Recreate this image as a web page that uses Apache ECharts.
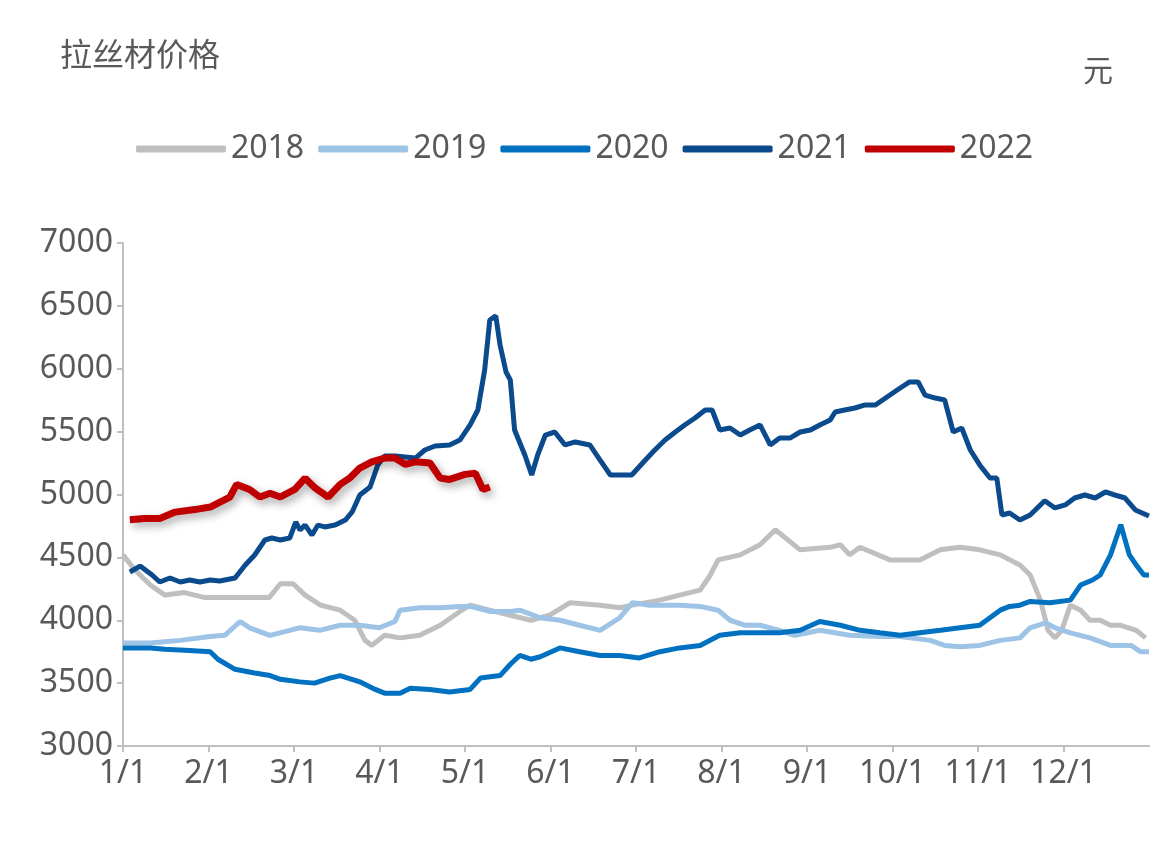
<!DOCTYPE html>
<html><head><meta charset="utf-8">
<script src="https://cdn.jsdelivr.net/npm/echarts@6/dist/echarts.min.js"></script>
<style>html,body{margin:0;padding:0;background:#fff}#c{width:1169px;height:844px}</style>
</head><body><div id="c"></div>
<script>
const monthLabels = ['1/1','2/1','3/1','4/1','5/1','6/1','7/1','8/1','9/1','10/1','11/1','12/1'];
const seriesNames = ['2018','2019','2020','2021','2022'];
const colors = ['#BFBFBF','#9DC3E6','#0070C0','#0B4A8C','#C00000'];
// [month position (0 = 1/1), price]
const data2018 = [[0,4520],[0.14,4400],[0.32,4280],[0.49,4200],[0.72,4220],[0.96,4180],[1.25,4180],[1.71,4180],[1.84,4290],[1.99,4290],[2.13,4200],[2.31,4120],[2.54,4080],[2.71,4000],[2.83,3840],[2.91,3800],[3.06,3880],[3.24,3860],[3.47,3880],[3.71,3960],[3.94,4070],[4.06,4120],[4.29,4080],[4.53,4040],[4.77,4000],[4.99,4040],[5.23,4140],[5.58,4120],[5.81,4100],[5.96,4120],[6.28,4160],[6.51,4200],[6.75,4240],[6.87,4360],[6.96,4480],[7.22,4520],[7.45,4600],[7.63,4720],[7.92,4560],[8.27,4580],[8.39,4600],[8.5,4520],[8.62,4580],[8.97,4480],[9.32,4480],[9.56,4560],[9.79,4580],[10.02,4560],[10.26,4520],[10.49,4440],[10.61,4360],[10.73,4160],[10.82,3920],[10.9,3860],[10.98,3920],[11.08,4120],[11.2,4080],[11.31,4000],[11.43,4000],[11.55,3960],[11.67,3960],[11.85,3920],[11.96,3860]];
const data2019 = [[0,3820],[0.32,3820],[0.67,3840],[1.02,3870],[1.19,3880],[1.37,3990],[1.48,3940],[1.72,3880],[1.95,3920],[2.07,3940],[2.3,3920],[2.54,3960],[2.77,3960],[3.0,3940],[3.18,3990],[3.24,4080],[3.47,4100],[3.71,4100],[3.94,4110],[4.06,4110],[4.29,4070],[4.53,4070],[4.64,4080],[4.88,4020],[5.11,4000],[5.34,3960],[5.58,3920],[5.81,4020],[5.96,4140],[6.16,4120],[6.51,4120],[6.75,4110],[6.96,4080],[7.1,4000],[7.28,3960],[7.45,3960],[7.68,3920],[7.86,3880],[8.15,3920],[8.5,3880],[8.85,3870],[9.09,3870],[9.44,3840],[9.61,3800],[9.79,3790],[10.02,3800],[10.26,3840],[10.49,3860],[10.61,3940],[10.79,3980],[10.9,3940],[11.08,3900],[11.31,3860],[11.55,3800],[11.79,3800],[11.9,3750],[12,3750]];
const data2020 = [[0,3780],[0.32,3780],[0.49,3770],[0.78,3760],[1.02,3750],[1.11,3690],[1.31,3610],[1.54,3580],[1.72,3560],[1.84,3530],[2.07,3510],[2.24,3500],[2.42,3540],[2.54,3560],[2.77,3510],[2.95,3450],[3.06,3420],[3.24,3420],[3.36,3460],[3.59,3450],[3.82,3430],[4.06,3450],[4.18,3540],[4.41,3560],[4.53,3650],[4.64,3720],[4.77,3690],[4.88,3710],[5.11,3780],[5.34,3750],[5.58,3720],[5.81,3720],[6.04,3700],[6.28,3750],[6.51,3780],[6.75,3800],[6.98,3880],[7.22,3900],[7.45,3900],[7.68,3900],[7.92,3920],[8.15,3990],[8.39,3960],[8.62,3920],[8.85,3900],[9.09,3880],[9.32,3900],[9.56,3920],[9.79,3940],[10.02,3960],[10.26,4080],[10.37,4110],[10.49,4120],[10.61,4150],[10.84,4140],[11.08,4160],[11.2,4280],[11.34,4320],[11.43,4360],[11.55,4520],[11.67,4760],[11.77,4520],[11.85,4440],[11.94,4360],[12,4360]];
const data2021 = [[0.08,4384],[0.2,4431],[0.34,4360],[0.43,4304],[0.55,4336],[0.67,4304],[0.78,4320],[0.9,4304],[1.02,4320],[1.13,4312],[1.31,4336],[1.43,4439],[1.54,4519],[1.66,4638],[1.74,4654],[1.84,4638],[1.95,4654],[2.02,4781],[2.07,4718],[2.13,4757],[2.21,4678],[2.28,4757],[2.36,4742],[2.48,4757],[2.6,4797],[2.68,4861],[2.77,4996],[2.89,5060],[2.98,5235],[3.06,5306],[3.18,5306],[3.3,5298],[3.42,5290],[3.53,5354],[3.65,5386],[3.82,5394],[3.94,5433],[4.06,5553],[4.15,5672],[4.23,5990],[4.29,6388],[4.36,6420],[4.41,6189],[4.48,5974],[4.53,5911],[4.58,5513],[4.7,5314],[4.78,5155],[4.85,5314],[4.94,5473],[5.05,5497],[5.17,5394],[5.29,5418],[5.46,5394],[5.58,5274],[5.7,5155],[5.81,5155],[5.95,5155],[6.11,5274],[6.22,5354],[6.34,5433],[6.46,5497],[6.57,5553],[6.69,5608],[6.81,5672],[6.89,5672],[6.98,5513],[7.1,5529],[7.22,5473],[7.33,5513],[7.45,5553],[7.57,5394],[7.68,5449],[7.8,5449],[7.92,5497],[8.04,5513],[8.15,5553],[8.27,5592],[8.33,5656],[8.44,5672],[8.56,5688],[8.68,5712],[8.8,5712],[8.97,5791],[9.09,5847],[9.2,5895],[9.3,5895],[9.38,5791],[9.5,5767],[9.61,5752],[9.71,5497],[9.81,5529],[9.91,5354],[10.02,5235],[10.14,5131],[10.22,5131],[10.28,4837],[10.37,4853],[10.49,4797],[10.61,4837],[10.78,4950],[10.9,4893],[11.02,4917],[11.13,4972],[11.25,4996],[11.37,4972],[11.49,5020],[11.6,4996],[11.72,4972],[11.84,4877],[12,4829]];
const data2022 = [[0.08,4800],[0.25,4810],[0.43,4810],[0.61,4860],[0.84,4880],[1.02,4900],[1.25,4980],[1.33,5080],[1.48,5040],[1.6,4980],[1.72,5010],[1.84,4980],[2.01,5040],[2.13,5130],[2.25,5050],[2.4,4980],[2.54,5080],[2.65,5130],[2.77,5210],[2.91,5260],[3.06,5290],[3.18,5290],[3.3,5240],[3.42,5260],[3.59,5250],[3.71,5130],[3.82,5120],[4.0,5160],[4.12,5170],[4.21,5040],[4.29,5060]];
const allData = [data2018, data2019, data2020, data2021, data2022];
const txt = '#595959', axisCol = '#BFBFBF';
const chart = echarts.init(document.getElementById('c'));
chart.setOption({
  animation:false,
  graphic:[
    {type:'text',left:60,top:38,style:{text:'拉丝材价格',fontSize:32,fill:txt,fontFamily:'Noto Sans CJK SC',letterSpacing:5}},
    {type:'text',left:1083,top:55,style:{text:'元',fontSize:30,fill:txt,fontFamily:'Noto Sans CJK SC'}}
  ],
  legend:{top:128,left:'center',itemWidth:90,itemHeight:7,itemGap:14,icon:'roundRect',
    textStyle:{fontSize:32,color:txt,fontFamily:'Noto Sans'},data:seriesNames},
  grid:{left:123,right:20,top:243,bottom:98},
  xAxis:{type:'value',min:0,max:12,interval:1,
    axisLine:{lineStyle:{color:axisCol,width:2}},axisTick:{show:true,lineStyle:{color:axisCol,width:2},length:6},
    splitLine:{show:false},
    axisLabel:{fontSize:32,color:txt,fontFamily:'Noto Sans',margin:12,showMaxLabel:false,
      formatter:v=>monthLabels[v]||''}},
  yAxis:{type:'value',min:3000,max:7000,interval:500,
    axisLine:{show:true,lineStyle:{color:axisCol,width:2}},axisTick:{show:true,lineStyle:{color:axisCol,width:2},length:6},
    splitLine:{show:false},
    axisLabel:{fontSize:32,color:txt,fontFamily:'Noto Sans',margin:10,formatter:v=>String(v)}},
  series: seriesNames.map((n,i)=>({
    name:n,type:'line',data:allData[i],showSymbol:false,symbol:'none',z:i+2,
    lineStyle:Object.assign({color:colors[i],width:i===4?7:5},i===4?{shadowColor:'rgba(0,0,0,0.35)',shadowBlur:8,shadowOffsetX:3,shadowOffsetY:4}:{}),
    itemStyle:{color:colors[i]}
  }))
});
</script></body></html>
